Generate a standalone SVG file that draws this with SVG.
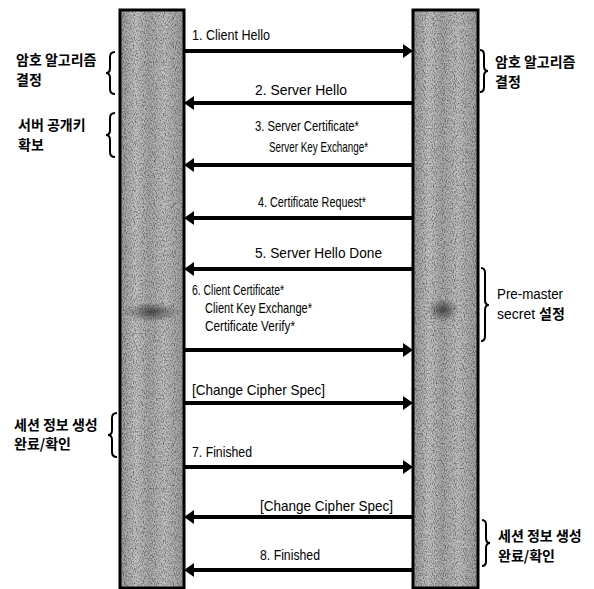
<svg xmlns="http://www.w3.org/2000/svg" width="594" height="589" viewBox="0 0 594 589">
<style>
.bar{stroke:#000;stroke-width:3}
.msg{font-family:"Liberation Sans",Arial,sans-serif;font-size:14.5px;fill:#000}
.kr{font-family:"Noto Sans CJK KR","Liberation Sans",sans-serif;font-size:14px;font-weight:bold;fill:#000}
.lat{font-family:"Liberation Sans","Noto Sans CJK KR",sans-serif;font-size:14px;fill:#000}
.arr{stroke:#000;stroke-width:4;fill:none;marker-end:url(#head)}
.brace{stroke:#000;stroke-width:2;fill:none}
</style>
<defs>
<marker id="head" markerUnits="userSpaceOnUse" viewBox="0 -7 10 14" refX="0" refY="0" markerWidth="10" markerHeight="14" orient="auto">
<path d="M0,-7 L10,0 L0,7 z" fill="#000"/>
</marker>
<linearGradient id="barfill" x1="0" y1="0" x2="1" y2="0">
<stop offset="0" stop-color="#9a9a9a"/>
<stop offset="0.25" stop-color="#c6c6c6"/>
<stop offset="0.45" stop-color="#aaaaaa"/>
<stop offset="0.7" stop-color="#c2c2c2"/>
<stop offset="1" stop-color="#9e9e9e"/>
</linearGradient>
<radialGradient id="blob">
<stop offset="0" stop-color="#222" stop-opacity="0.7"/>
<stop offset="1" stop-color="#222" stop-opacity="0"/>
</radialGradient>
<filter id="grain" x="0%" y="0%" width="100%" height="100%">
<feTurbulence type="fractalNoise" baseFrequency="1.1 0.6" numOctaves="1" seed="7"/>
<feColorMatrix type="matrix" values="0 0 0 0 0  0 0 0 0 0  0 0 0 0 0  1.3 0 0 0 -0.55"/>
<feComposite operator="in" in2="SourceGraphic"/>
</filter>
</defs>

<g id="client">
<rect class="bar" x="120" y="10" width="64" height="578" fill="url(#barfill)"/>
<rect x="121.5" y="11.5" width="61" height="575" fill="#000" filter="url(#grain)"/>
<ellipse cx="152" cy="312" rx="28" ry="10" fill="url(#blob)"/>
</g>
<g id="server">
<rect class="bar" x="413" y="10" width="65" height="578" fill="url(#barfill)"/>
<rect x="414.5" y="11.5" width="62" height="575" fill="#000" filter="url(#grain)"/>
<ellipse cx="443" cy="310" rx="16" ry="12" fill="url(#blob)"/>
</g>

<g id="connectors">
<line class="arr" x1="184" y1="51" x2="403" y2="51"/>
<line class="arr" x1="413" y1="103" x2="194" y2="103"/>
<line class="arr" x1="413" y1="165" x2="194" y2="165"/>
<line class="arr" x1="413" y1="218" x2="194" y2="218"/>
<line class="arr" x1="413" y1="269" x2="194" y2="269"/>
<line class="arr" x1="184" y1="350" x2="403" y2="350"/>
<line class="arr" x1="184" y1="403" x2="403" y2="403"/>
<line class="arr" x1="184" y1="467" x2="403" y2="467"/>
<line class="arr" x1="413" y1="517" x2="194" y2="517"/>
<line class="arr" x1="413" y1="570" x2="194" y2="570"/>
<text class="msg" x="192" y="40" textLength="78" lengthAdjust="spacingAndGlyphs">1. Client Hello</text>
<text class="msg" x="255" y="95" textLength="92" lengthAdjust="spacingAndGlyphs">2. Server Hello</text>
<text class="msg" x="255" y="131" textLength="104" lengthAdjust="spacingAndGlyphs">3. Server Certificate*</text>
<text class="msg" x="269" y="152" textLength="99" lengthAdjust="spacingAndGlyphs">Server Key Exchange*</text>
<text class="msg" x="258" y="207" textLength="108" lengthAdjust="spacingAndGlyphs">4. Certificate Request*</text>
<text class="msg" x="255" y="258" textLength="127" lengthAdjust="spacingAndGlyphs">5. Server Hello Done</text>
<text class="msg" x="192" y="295" textLength="92" lengthAdjust="spacingAndGlyphs">6. Client Certificate*</text>
<text class="msg" x="205" y="313" textLength="107" lengthAdjust="spacingAndGlyphs">Client Key Exchange*</text>
<text class="msg" x="205" y="331" textLength="90" lengthAdjust="spacingAndGlyphs">Certificate Verify*</text>
<text class="msg" x="192" y="395" textLength="133" lengthAdjust="spacingAndGlyphs">[Change Cipher Spec]</text>
<text class="msg" x="192" y="457" textLength="60" lengthAdjust="spacingAndGlyphs">7. Finished</text>
<text class="msg" x="260" y="511" textLength="133" lengthAdjust="spacingAndGlyphs">[Change Cipher Spec]</text>
<text class="msg" x="260" y="560" textLength="60" lengthAdjust="spacingAndGlyphs">8. Finished</text>
</g>

<g id="note-client-cipher">
<path class="brace" d="M115,52 Q110,52 110,57 L110,68 Q110,73 106,73 Q110,73 110,78 L110,89 Q110,94 115,94"/>
<text class="kr" x="16" y="65">암호 알고리즘</text>
<text class="kr" x="16" y="85">결정</text>
</g>
<g id="note-client-key">
<path class="brace" d="M115,113 Q110,113 110,118 L110,130 Q110,135 106,135 Q110,135 110,140 L110,152 Q110,157 115,157"/>
<text class="kr" x="18" y="130">서버 공개키</text>
<text class="kr" x="18" y="150">확보</text>
</g>
<g id="note-client-session">
<path class="brace" d="M117,413 Q112,413 112,418 L112,430 Q112,435 108,435 Q112,435 112,440 L112,452 Q112,457 117,457"/>
<text class="kr" x="14" y="430">세션 정보 생성</text>
<text class="kr" x="14" y="449">완료/확인</text>
</g>
<g id="note-server-cipher">
<path class="brace" d="M480,50 Q484,50 484,55 L484,66 Q484,71 488,71 Q484,71 484,76 L484,87 Q484,92 480,92"/>
<text class="kr" x="495" y="67">암호 알고리즘</text>
<text class="kr" x="495" y="87">결정</text>
</g>
<g id="note-server-premaster">
<path class="brace" d="M481,268 Q485,268 485,273 L485,300 Q485,305 489,305 Q485,305 485,310 L485,336 Q485,341 481,341"/>
<text class="lat" x="497" y="299" textLength="66" lengthAdjust="spacingAndGlyphs">Pre-master</text>
<text class="lat" x="497" y="319">secret <tspan class="kr" font-size="13">설정</tspan></text>
</g>
<g id="note-server-session">
<path class="brace" d="M482,520 Q486,520 486,525 L486,538 Q486,543 490,543 Q486,543 486,548 L486,561 Q486,566 482,566"/>
<text class="kr" x="498" y="541">세션 정보 생성</text>
<text class="kr" x="498" y="561">완료/확인</text>
</g>
</svg>
